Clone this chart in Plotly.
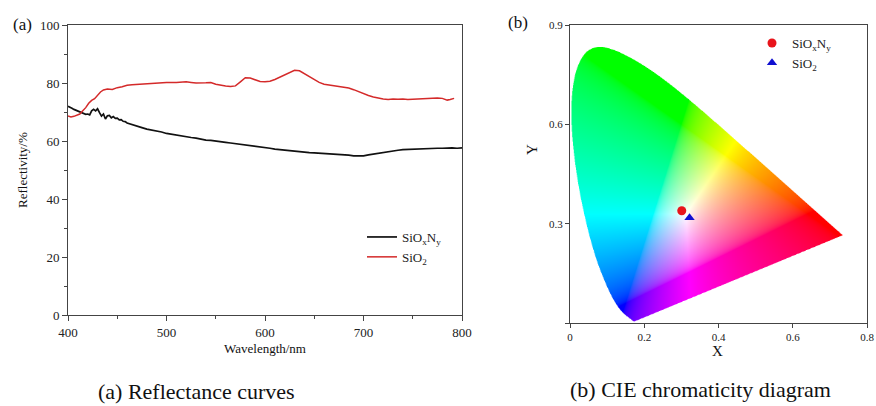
import base64
import struct
import zlib

import numpy as np
import plotly.graph_objects as go

# ---------------- data: reflectance curves ----------------
wl_sioxny = [400, 402, 404, 406, 408, 410, 412, 414, 416, 418, 420, 422, 424, 426, 428,
             430, 432, 434, 436, 438, 440, 442, 444, 446, 448, 450, 452, 454, 456, 458,
             460, 465, 470, 475, 480, 485, 490, 495, 500, 505, 510, 515, 520, 525, 530,
             535, 540, 545, 550, 555, 560, 565, 570, 575, 580, 585, 590, 595, 600, 605,
             610, 615, 620, 625, 630, 635, 640, 645, 650, 655, 660, 665, 670, 675, 680,
             685, 690, 695, 700, 705, 710, 715, 720, 725, 730, 735, 740, 745, 750, 755,
             760, 765, 770, 775, 780, 785, 790, 795, 800]
r_sioxny = [72.0, 71.5, 71.3, 70.9, 70.6, 70.3, 70.2, 69.8, 69.6, 69.2, 69.3, 69.0, 70.4,
            70.9, 70.4, 71.1, 69.8, 68.6, 69.3, 67.6, 68.7, 68.8, 68.0, 68.4, 67.8, 67.9,
            67.3, 67.4, 66.8, 66.7, 66.2, 65.6, 65.1, 64.6, 64.1, 63.8, 63.5, 63.1, 62.6,
            62.3, 61.9, 61.7, 61.4, 61.2, 61.0, 60.6, 60.3, 60.2, 59.9, 59.7, 59.5, 59.3,
            59.1, 58.9, 58.6, 58.4, 58.2, 58.0, 57.8, 57.5, 57.2, 57.0, 56.8, 56.6, 56.5,
            56.3, 56.2, 56.0, 55.9, 55.8, 55.7, 55.6, 55.6, 55.5, 55.3, 55.1, 54.9, 54.8,
            54.9, 55.2, 55.5, 55.8, 56.1, 56.3, 56.6, 56.8, 57.0, 57.1, 57.1, 57.2, 57.3,
            57.3, 57.4, 57.5, 57.5, 57.6, 57.6, 57.5, 57.6]

wl_sio2 = [400, 403, 406, 409, 412, 415, 418, 421, 424, 427, 430, 433, 436, 440, 445, 450,
           455, 460, 465, 470, 480, 490, 500, 510, 520, 525, 530, 540, 545, 550, 555, 560,
           565, 570, 575, 580, 585, 590, 595, 600, 605, 610, 615, 620, 625, 630, 635, 640,
           645, 650, 655, 660, 665, 670, 675, 680, 685, 690, 695, 700, 705, 710, 715, 720,
           725, 730, 735, 740, 745, 750, 755, 760, 765, 770, 775, 780, 785, 788, 792]
r_sio2 = [68.6, 68.3, 68.5, 68.9, 69.3, 70.4, 71.5, 73.0, 74.0, 74.6, 75.8, 76.9, 77.6,
          77.9, 77.8, 78.4, 78.7, 79.2, 79.4, 79.5, 79.9, 80.1, 80.2, 80.2, 80.4, 80.2,
          80.0, 80.1, 80.2, 79.6, 79.2, 79.0, 78.8, 79.0, 80.4, 81.8, 81.7, 81.0, 80.5,
          80.4, 80.6, 81.2, 82.0, 82.9, 83.8, 84.4, 84.2, 83.2, 82.1, 81.0, 80.2, 79.6,
          79.3, 79.0, 78.8, 78.6, 78.3, 77.7, 77.0, 76.3, 75.7, 75.2, 74.8, 74.5, 74.3,
          74.5, 74.4, 74.5, 74.3, 74.4, 74.5, 74.6, 74.6, 74.7, 74.8, 74.7, 74.1, 74.3,
          74.7]

# ---------------- data: CIE 1931 spectral locus (380-700 nm, 5 nm) ----------------
locus_x = [0.1741, 0.1740, 0.1738, 0.1736, 0.1733, 0.1730, 0.1726, 0.1721, 0.1714, 0.1703,
           0.1689, 0.1669, 0.1644, 0.1611, 0.1566, 0.1510, 0.1440, 0.1355, 0.1241, 0.1096,
           0.0913, 0.0687, 0.0454, 0.0235, 0.0082, 0.0039, 0.0139, 0.0389, 0.0743, 0.1142,
           0.1547, 0.1929, 0.2296, 0.2658, 0.3016, 0.3373, 0.3731, 0.4087, 0.4441, 0.4788,
           0.5125, 0.5448, 0.5752, 0.6029, 0.6270, 0.6482, 0.6658, 0.6801, 0.6915, 0.7006,
           0.7079, 0.7140, 0.7190, 0.7230, 0.7260, 0.7283, 0.7300, 0.7311, 0.7320, 0.7327,
           0.7334, 0.7340, 0.7344, 0.7346, 0.7347]
locus_y = [0.0050, 0.0050, 0.0049, 0.0049, 0.0048, 0.0048, 0.0048, 0.0048, 0.0051, 0.0058,
           0.0069, 0.0086, 0.0109, 0.0138, 0.0177, 0.0227, 0.0297, 0.0399, 0.0578, 0.0868,
           0.1327, 0.2007, 0.2950, 0.4127, 0.5384, 0.6548, 0.7502, 0.8120, 0.8338, 0.8262,
           0.8059, 0.7816, 0.7543, 0.7243, 0.6923, 0.6589, 0.6245, 0.5896, 0.5547, 0.5202,
           0.4866, 0.4544, 0.4242, 0.3965, 0.3725, 0.3514, 0.3340, 0.3197, 0.3083, 0.2993,
           0.2920, 0.2859, 0.2809, 0.2770, 0.2740, 0.2717, 0.2700, 0.2689, 0.2680, 0.2673,
           0.2666, 0.2660, 0.2656, 0.2654, 0.2653]

# measured chromaticity points
pt_names = ["SiO<sub>x</sub>N<sub>y</sub>", "SiO<sub>2</sub>"]
pt_x = [0.301, 0.322]
pt_y = [0.339, 0.318]

X_RANGE = [0.0, 0.8]
Y_RANGE = [0.0, 0.9]

FONT = "Liberation Serif"


# ---------------- build the chromaticity background image ----------------
def smooth_outline(xs, ys, sub=8):
    """Catmull-Rom outline through the locus points (drawing only)."""
    p = np.column_stack([xs, ys])
    p = np.vstack([p[0], p, p[-1]])
    out = []
    for k in range(1, len(p) - 2):
        p0, p1, p2, p3 = p[k - 1], p[k], p[k + 1], p[k + 2]
        for t in np.linspace(0, 1, sub, endpoint=False):
            t2, t3 = t * t, t * t * t
            out.append(0.5 * ((2 * p1) + (-p0 + p2) * t + (2 * p0 - 5 * p1 + 4 * p2 - p3) * t2
                              + (-p0 + 3 * p1 - 3 * p2 + p3) * t3))
    out.append(p[-2])
    out = np.array(out)
    return out[:, 0], out[:, 1]


def chromaticity_png(width, height, ss=2):
    W, H = width * ss, height * ss
    xs = X_RANGE[0] + (np.arange(W) + 0.5) / W * (X_RANGE[1] - X_RANGE[0])
    ys = Y_RANGE[1] - (np.arange(H) + 0.5) / H * (Y_RANGE[1] - Y_RANGE[0])
    px, py = np.meshgrid(xs, ys)
    polx, poly = smooth_outline(locus_x, locus_y)
    inside = np.zeros(px.shape, dtype=bool)
    n = len(polx)
    j = n - 1
    for i in range(n):
        xi, yi, xj, yj = polx[i], poly[i], polx[j], poly[j]
        if yi == yj:
            j = i
            continue
        cond = (yi > py) != (yj > py)
        xint = (xj - xi) * (py - yi) / (yj - yi) + xi
        inside ^= cond & (px < xint)
        j = i
    yy = np.maximum(py, 1e-4)
    X = px / yy
    Y = np.ones_like(px)
    Z = (1 - px - py) / yy
    R = 3.2406 * X - 1.5372 * Y - 0.4986 * Z
    G = -0.9689 * X + 1.8758 * Y + 0.0415 * Z
    B = 0.0557 * X - 0.2040 * Y + 1.0570 * Z
    rgb = np.stack([R, G, B], axis=-1)
    rgb = np.clip(rgb, 0, None)
    mx = rgb.max(axis=-1, keepdims=True)
    mx[mx == 0] = 1
    rgb = rgb / mx
    rgb = np.where(rgb <= 0.0031308, 12.92 * rgb, 1.055 * np.power(rgb, 1 / 2.4) - 0.055)
    alpha = inside.astype(float)[..., None]
    rgba = np.concatenate([rgb * alpha, alpha], axis=-1)
    rgba = rgba.reshape(height, ss, width, ss, 4).mean(axis=(1, 3))
    a = rgba[..., 3:4]
    col = np.where(a > 0, rgba[..., :3] / np.maximum(a, 1e-9), 0)
    out = np.concatenate([col, a], axis=-1)
    out = (np.clip(out, 0, 1) * 255).round().astype(np.uint8)

    raw = b"".join(b"\x00" + out[r].tobytes() for r in range(height))

    def chunk(tag, data):
        c = struct.pack(">I", len(data)) + tag + data
        return c + struct.pack(">I", zlib.crc32(tag + data) & 0xFFFFFFFF)

    png = b"\x89PNG\r\n\x1a\n"
    png += chunk(b"IHDR", struct.pack(">IIBBBBB", width, height, 8, 6, 0, 0, 0))
    png += chunk(b"IDAT", zlib.compress(raw, 9))
    png += chunk(b"IEND", b"")
    return "data:image/png;base64," + base64.b64encode(png).decode()


img_src = chromaticity_png(400, 450)

# ---------------- figure ----------------
W, H = 876, 406


def px_x(p):
    return p / W


def px_y(p):
    return 1 - p / H


fig = go.Figure()

fig.add_trace(go.Scatter(x=wl_sioxny, y=r_sioxny, mode="lines", name="SiO<sub>x</sub>N<sub>y</sub>",
                         line=dict(color="#111111", width=1.7), xaxis="x", yaxis="y",
                         legend="legend"))
fig.add_trace(go.Scatter(x=wl_sio2, y=r_sio2, mode="lines", name="SiO<sub>2</sub>",
                         line=dict(color="#d42a2a", width=1.5), xaxis="x", yaxis="y",
                         legend="legend"))

fig.add_trace(go.Scatter(x=[pt_x[0]], y=[pt_y[0]], mode="markers", name=pt_names[0],
                         marker=dict(symbol="circle", color="#e8141b", size=9),
                         xaxis="x2", yaxis="y2", legend="legend2"))
fig.add_trace(go.Scatter(x=[pt_x[1]], y=[pt_y[1]], mode="markers", name=pt_names[1],
                         marker=dict(symbol="triangle-up", color="#1010d0", size=9),
                         xaxis="x2", yaxis="y2", legend="legend2"))

axis_common = dict(showgrid=False, zeroline=False, showline=True, linecolor="#444444",
                   linewidth=1, mirror=True, ticks="outside", tickcolor="#444444",
                   tickwidth=1, color="#222222", automargin=False)

fig.update_layout(
    template="none",
    width=W, height=H,
    margin=dict(l=0, r=0, t=0, b=0, autoexpand=False),
    paper_bgcolor="white",
    plot_bgcolor="rgba(0,0,0,0)",
    font=dict(family=FONT, color="#222222", size=13),
    xaxis=dict(domain=[px_x(68), px_x(462)], range=[400, 800], tickvals=[400, 500, 600, 700, 800],
               ticklen=5, minor=dict(dtick=50, tick0=400, ticks="outside", ticklen=3,
                                     tickcolor="#444444"),
               tickfont=dict(size=13, family=FONT), anchor="y", **axis_common),
    yaxis=dict(domain=[px_y(315), px_y(25)], range=[0, 100], tickvals=[0, 20, 40, 60, 80, 100],
               ticklen=5, minor=dict(dtick=10, tick0=0, ticks="outside", ticklen=3,
                                     tickcolor="#444444"),
               tickfont=dict(size=13, family=FONT), anchor="x", **axis_common),
    xaxis2=dict(domain=[px_x(570), px_x(867)], range=X_RANGE,
                tickvals=[0, 0.2, 0.4, 0.6, 0.8], ticktext=["0", "0.2", "0.4", "0.6", "0.8"],
                ticklen=4, tickfont=dict(size=11, family=FONT), anchor="y2", **axis_common),
    yaxis2=dict(domain=[px_y(323), px_y(25)], range=Y_RANGE,
                tickvals=[0, 0.3, 0.6, 0.9], ticktext=["", "0.3", "0.6", "0.9"],
                ticklen=4, tickfont=dict(size=11, family=FONT), anchor="x2", **axis_common),
    legend=dict(x=px_x(362), y=px_y(222), xanchor="left", yanchor="top",
                bgcolor="rgba(0,0,0,0)", font=dict(size=13, family=FONT),
                itemwidth=30, tracegroupgap=0),
    legend2=dict(x=px_x(752), y=px_y(28), xanchor="left", yanchor="top",
                 bgcolor="rgba(0,0,0,0)", font=dict(size=13, family=FONT),
                 itemwidth=30, tracegroupgap=0),
    images=[dict(source=img_src, xref="x2", yref="y2", x=X_RANGE[0], y=Y_RANGE[1],
                 sizex=X_RANGE[1] - X_RANGE[0], sizey=Y_RANGE[1] - Y_RANGE[0],
                 xanchor="left", yanchor="top", sizing="stretch", layer="below")],
    showlegend=True,
)

annotations = [
    dict(text="(a)", x=px_x(22), y=px_y(24), font=dict(size=17)),
    dict(text="(b)", x=px_x(518), y=px_y(22), font=dict(size=17)),
    dict(text="Reflectivity/%", x=px_x(22), y=px_y(170), textangle=-90, font=dict(size=13)),
    dict(text="Wavelength/nm", x=px_x(265), y=px_y(348), font=dict(size=13)),
    dict(text="X", x=px_x(717), y=px_y(351), font=dict(size=15)),
    dict(text="Y", x=px_x(532), y=px_y(150), textangle=-90, font=dict(size=15)),
    dict(text="(a) Reflectance curves", x=px_x(196), y=px_y(391), font=dict(size=22)),
    dict(text="(b) CIE chromaticity diagram", x=px_x(700), y=px_y(389), font=dict(size=22)),
]
for a in annotations:
    a.update(xref="paper", yref="paper", showarrow=False, xanchor="center", yanchor="middle")
    a["font"] = dict(family=FONT, color="#111111", **a["font"])
fig.update_layout(annotations=annotations)

fig.write_html("out.html", config={"displayModeBar": False},
               post_script="document.body.style.margin='0px';document.body.style.overflow='hidden';")
